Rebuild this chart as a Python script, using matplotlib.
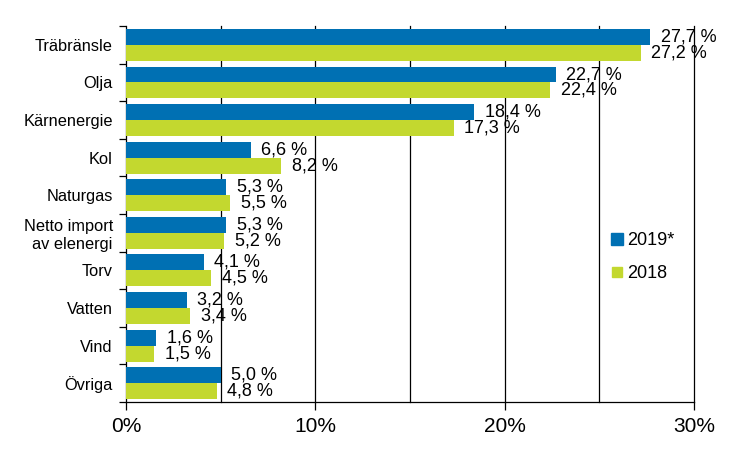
import matplotlib
matplotlib.use("Agg")
import matplotlib.pyplot as plt
from matplotlib.lines import Line2D
import numpy as np

categories = ["Träbränsle", "Olja", "Kärnenergie", "Kol", "Naturgas",
              "Netto import\nav elenergi", "Torv", "Vatten", "Vind", "Övriga"]
values_2019 = [27.7, 22.7, 18.4, 6.6, 5.3, 5.3, 4.1, 3.2, 1.6, 5.0]
values_2018 = [27.2, 22.4, 17.3, 8.2, 5.5, 5.2, 4.5, 3.4, 1.5, 4.8]
series_names = ["2019*", "2018"]
xticks = [0, 10, 20, 30]
xtick_labels = ["0%", "10%", "20%", "30%"]

c2019 = "#0070B3"
c2018 = "#C3D82F"

plt.rcParams['font.family'] = ['Liberation Sans', 'DejaVu Sans']

fig = plt.figure(figsize=(7.37, 4.54), dpi=100)
ax = fig.add_axes([0.171, 0.1145, 0.7707, 0.828])

n = len(categories)
y = np.arange(n)
h = 0.425
ax.barh(y - h/2, values_2019, height=h, color=c2019, zorder=3)
ax.barh(y + h/2, values_2018, height=h, color=c2018, zorder=3)

def fmt(v):
    return f"{v:.1f}".replace(".", ",") + " %"

for yi, v in zip(y, values_2019):
    ax.annotate(fmt(v), (v, yi - h/2), xytext=(7.5, 0), textcoords="offset points",
                va="center", ha="left", fontsize=13, zorder=4)
for yi, v in zip(y, values_2018):
    ax.annotate(fmt(v), (v, yi + h/2), xytext=(7.5, 0), textcoords="offset points",
                va="center", ha="left", fontsize=13, zorder=4)

ax.set_xlim(0, 30)
ax.set_ylim(n - 0.5, -0.5)
for gx in [5, 10, 15, 20, 25, 30]:
    ax.axvline(gx, color="black", lw=0.9, zorder=1, clip_on=False)

ax.set_xticks(xticks)
ax.set_xticklabels(xtick_labels, fontsize=15)
ax.tick_params(axis="x", length=6, width=0.9, pad=5)

ax.set_yticks(y)
ax.set_yticklabels(categories, fontsize=11.8)
ax.tick_params(axis="y", which="major", length=0, pad=9.5)
ax.set_yticks(np.arange(-0.5, n + 0.5, 1), minor=True)
ax.tick_params(axis="y", which="minor", length=5, width=0.9)

for s in ["top", "right"]:
    ax.spines[s].set_visible(False)
ax.spines["left"].set_linewidth(0.9)
ax.spines["bottom"].set_linewidth(0.9)

handles = [Line2D([], [], marker="s", ls="", ms=8, color=c2019),
           Line2D([], [], marker="s", ls="", ms=6.5, color=c2018)]
leg = ax.legend(handles, series_names, loc="center left",
                bbox_to_anchor=(0.855, 0.385), frameon=False,
                fontsize=13, handlelength=0.6, handletextpad=0.25,
                labelspacing=0.9, borderaxespad=0, borderpad=0)

fig.savefig("out.png", dpi=100)
